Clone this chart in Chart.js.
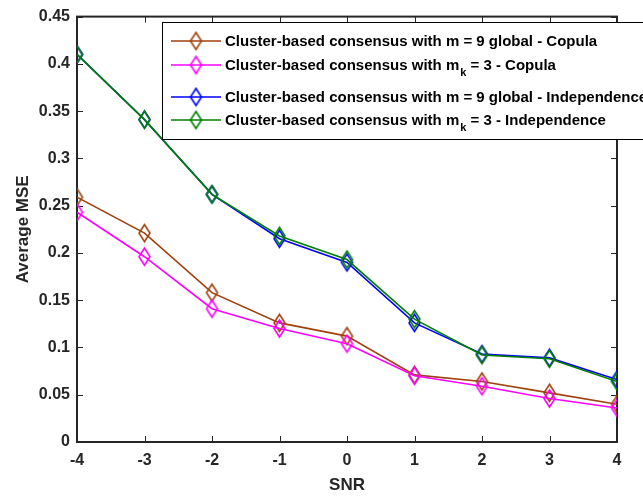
<!DOCTYPE html>
<html>
<head>
<meta charset="utf-8">
<script src="https://cdn.jsdelivr.net/npm/chart.js@4.4.1/dist/chart.umd.min.js"></script>
<style>
  html, body { margin: 0; padding: 0; background: #fff; }
</style>
</head>
<body>
<canvas id="mseChart" width="643" height="497"></canvas>
<script>
// SNR points and y-axis ticks
var snr = [-4, -3, -2, -1, 0, 1, 2, 3, 4];
var yTicks = [0, 0.05, 0.1, 0.15, 0.2, 0.25, 0.3, 0.35, 0.4, 0.45];

// average MSE per scheme
var copulaGlobal  = [0.259, 0.221, 0.158, 0.126, 0.112, 0.071, 0.064, 0.052, 0.040];
var copulaCluster = [0.243, 0.196, 0.141, 0.120, 0.104, 0.070, 0.059, 0.046, 0.036];
var indepGlobal   = [0.410, 0.341, 0.262, 0.215, 0.190, 0.126, 0.093, 0.089, 0.066];
var indepCluster  = [0.410, 0.341, 0.262, 0.218, 0.193, 0.130, 0.092, 0.088, 0.064];

// legend text: [before subscript, subscript, after subscript]
var seriesNames = [
  ['Cluster-based consensus with m = 9 global - Copula', '', ''],
  ['Cluster-based consensus with m', 'k', ' = 3 - Copula'],
  ['Cluster-based consensus with m = 9 global - Independence', '', ''],
  ['Cluster-based consensus with m', 'k', ' = 3 - Independence']
];
var seriesColors = ['#a0410d', '#ff00ff', '#0000ff', '#008000'];

var axisColor = '#262626';
var fontFamily = "'Liberation Sans', Arial, sans-serif";

// MATLAB style open diamond marker
function diamond(color) {
  var c = document.createElement('canvas');
  c.width = 15; c.height = 21;
  var g = c.getContext('2d');
  g.strokeStyle = color;
  g.lineWidth = 1.6;
  g.beginPath();
  g.moveTo(7.5, 2);
  g.lineTo(13, 10.5);
  g.lineTo(7.5, 19);
  g.lineTo(2, 10.5);
  g.closePath();
  g.stroke();
  return c;
}

var markers = seriesColors.map(diamond);

function toPoints(values) {
  return values.map(function (v, i) { return { x: snr[i], y: v }; });
}

var allSeries = [copulaGlobal, copulaCluster, indepGlobal, indepCluster];
var drawOrder = [3, 2, 1, 0];

var datasets = allSeries.map(function (values, i) {
  return {
    label: seriesNames[i].join(''),
    data: toPoints(values),
    borderColor: seriesColors[i],
    borderWidth: 1.6,
    pointStyle: markers[i],
    pointRadius: 7,
    pointHoverRadius: 7,
    order: drawOrder[i],
    tension: 0
  };
});

// box around the plot with inward ticks on all four sides
var framePlugin = {
  id: 'frame',
  beforeDatasetsDraw: function (chart) {
    var ctx = chart.ctx;
    var a = chart.chartArea;
    var xs = chart.scales.x, ys = chart.scales.y;
    var t = 6;
    ctx.save();
    ctx.strokeStyle = axisColor;
    ctx.lineWidth = 2;
    ctx.strokeRect(a.left, a.top, a.right - a.left, a.bottom - a.top);
    ctx.lineWidth = 1;
    ctx.beginPath();
    snr.forEach(function (v) {
      var px = Math.round(xs.getPixelForValue(v)) + 0.5;
      ctx.moveTo(px, a.bottom); ctx.lineTo(px, a.bottom - t);
      ctx.moveTo(px, a.top); ctx.lineTo(px, a.top + t);
    });
    yTicks.forEach(function (v) {
      var py = Math.round(ys.getPixelForValue(v)) + 0.5;
      ctx.moveTo(a.left, py); ctx.lineTo(a.left + t, py);
      ctx.moveTo(a.right, py); ctx.lineTo(a.right - t, py);
    });
    ctx.stroke();
    ctx.restore();
  }
};

// legend box in the upper right, with subscripts
var legendPlugin = {
  id: 'mseLegend',
  afterDraw: function (chart) {
    var ctx = chart.ctx;
    var bx = 162.5, by = 22.5, bw = 500, bh = 117;
    var rows = [41, 65, 97, 120];
    ctx.save();
    ctx.fillStyle = '#fff';
    ctx.fillRect(bx, by, bw, bh);
    ctx.strokeStyle = '#000';
    ctx.lineWidth = 1;
    ctx.strokeRect(bx, by, bw, bh);
    seriesNames.forEach(function (parts, i) {
      var y = rows[i];
      ctx.strokeStyle = seriesColors[i];
      ctx.lineWidth = 1.6;
      ctx.beginPath();
      ctx.moveTo(171, y); ctx.lineTo(221, y);
      ctx.stroke();
      ctx.drawImage(markers[i], 196 - 7.5, y - 10.5);
      ctx.fillStyle = '#000';
      ctx.textBaseline = 'middle';
      ctx.font = 'bold 15px ' + fontFamily;
      var x = 225;
      ctx.fillText(parts[0], x, y + 1);
      x += ctx.measureText(parts[0]).width;
      if (parts[1]) {
        ctx.font = 'bold 11px ' + fontFamily;
        ctx.fillText(parts[1], x + 1, y + 8);
        x += ctx.measureText(parts[1]).width + 1;
        ctx.font = 'bold 15px ' + fontFamily;
        ctx.fillText(parts[2], x, y + 1);
      }
    });
    ctx.restore();
  }
};

new Chart(document.getElementById('mseChart'), {
  type: 'line',
  data: { datasets: datasets },
  plugins: [framePlugin, legendPlugin],
  options: {
    responsive: false,
    animation: false,
    devicePixelRatio: 1,
    layout: { padding: { top: 15, right: 26, left: 0, bottom: 0 } },
    plugins: {
      legend: { display: false },
      tooltip: { enabled: false }
    },
    scales: {
      x: {
        type: 'linear',
        min: -4,
        max: 4,
        afterBuildTicks: function (scale) {
          scale.ticks = snr.map(function (v) { return { value: v }; });
        },
        afterFit: function (scale) { scale.height = 55; },
        grid: { display: false, drawTicks: false },
        border: { display: false },
        ticks: {
          color: axisColor,
          padding: 9,
          maxRotation: 0,
          font: { family: fontFamily, size: 16, weight: 'bold' },
          callback: function (v) { return String(v); }
        },
        title: {
          display: true,
          text: 'SNR',
          color: axisColor,
          padding: { top: 0, bottom: 1 },
          font: { family: fontFamily, size: 17, weight: 'bold', lineHeight: 1.2 }
        }
      },
      y: {
        min: 0,
        max: 0.45,
        afterBuildTicks: function (scale) {
          scale.ticks = yTicks.map(function (v) { return { value: v }; });
        },
        afterFit: function (scale) { scale.width = 77; },
        grid: { display: false, drawTicks: false },
        border: { display: false },
        ticks: {
          color: axisColor,
          padding: 7,
          font: { family: fontFamily, size: 16, weight: 'bold' },
          callback: function (v) { return String(Number(v.toFixed(2))); }
        },
        title: {
          display: true,
          text: 'Average MSE',
          color: axisColor,
          padding: { top: 13, bottom: 0 },
          font: { family: fontFamily, size: 17, weight: 'bold', lineHeight: 1.2 }
        }
      }
    }
  }
});
</script>
</body>
</html>
